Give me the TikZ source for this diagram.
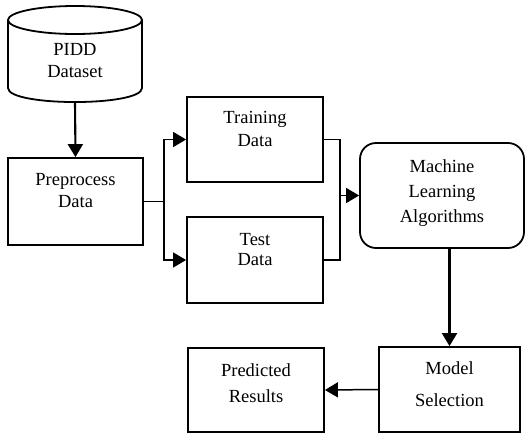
\documentclass[tikz,border=0pt]{standalone}
\usepackage{fontspec}
\setmainfont{Liberation Serif}
\usetikzlibrary{arrows.meta,calc}
\begin{document}
\begin{tikzpicture}[x=1pt,y=-1pt,
 box/.style={draw,line width=1.8pt,rectangle,inner sep=0pt},
 txt/.style={align=center,inner sep=0pt},
 conn/.style={line width=1.5pt},
 tip/.style={-{Triangle[length=13pt,width=15pt]}},
 arr/.style={line width=2.1pt,tip},
]
\useasboundingbox (0,0) rectangle (526,434);
% cylinder
\node[minimum width=134pt,minimum height=95pt,inner sep=0pt] (pidd) at (75,54.5) {};
\draw[line width=1.8pt] (75,20) ellipse[x radius=67pt,y radius=14pt];
\draw[line width=1.8pt] (8,20) -- (8,88) .. controls (8,106.7) and (142,106.7) .. (142,88) -- (142,20);
\node[txt,font=\fontsize{18.5}{22}\selectfont] (piddt) at (75,61) {PIDD\\Dataset};
% boxes
\node[box,minimum width=135pt,minimum height=87pt] (pre) at (75.5,201.5) {};
\node[box,minimum width=136pt,minimum height=85pt] (train) at (255,139.5) {};
\node[box,minimum width=136pt,minimum height=86pt] (test) at (255,260) {};
\node[box,rounded corners=16pt,minimum width=164pt,minimum height=105pt] (ml) at (442,195.5) {};
\node[box,minimum width=141pt,minimum height=85pt] (model) at (449.5,389.5) {};
\node[box,minimum width=136pt,minimum height=84pt] (pred) at (256,390) {};
% texts
\node[txt,font=\fontsize{18.5}{22}\selectfont] (pret) at (75.5,191) {Preprocess\\Data};
\node[txt,font=\fontsize{18.5}{23}\selectfont] (traint) at (255,128.5) {Training\\Data};
\node[txt,font=\fontsize{18.5}{20}\selectfont] (testt) at (255,250) {Test\\Data};
\node[txt,font=\fontsize{18.5}{25}\selectfont] (mlt) at (442,193) {Machine\\Learning\\Algorithms};
\node[txt,font=\fontsize{18.5}{32}\selectfont] (modelt) at (449.5,384) {Model\\Selection};
\node[txt,font=\fontsize{18.5}{26}\selectfont] (predt) at (256,383) {Predicted\\Results};
% connectors
\draw[arr] (pidd.south) -- (pre.north);
\draw[conn] (pre.east) -- ++(20,0) coordinate (s);
\draw[conn,tip] (s) |- (train.west);
\draw[conn,tip] (s) |- (test.west);
\draw[conn] (train.east) -- ++(16,0) coordinate (m1) -- (m1 |- test.east) -- (test.east);
\draw[conn,tip] (m1 |- ml.west) -- (ml.west);
\draw[arr] (model.north |- ml.south) -- (model.north);
\draw[conn,tip] (model.west) -- (pred.east);
\end{tikzpicture}
\end{document}
